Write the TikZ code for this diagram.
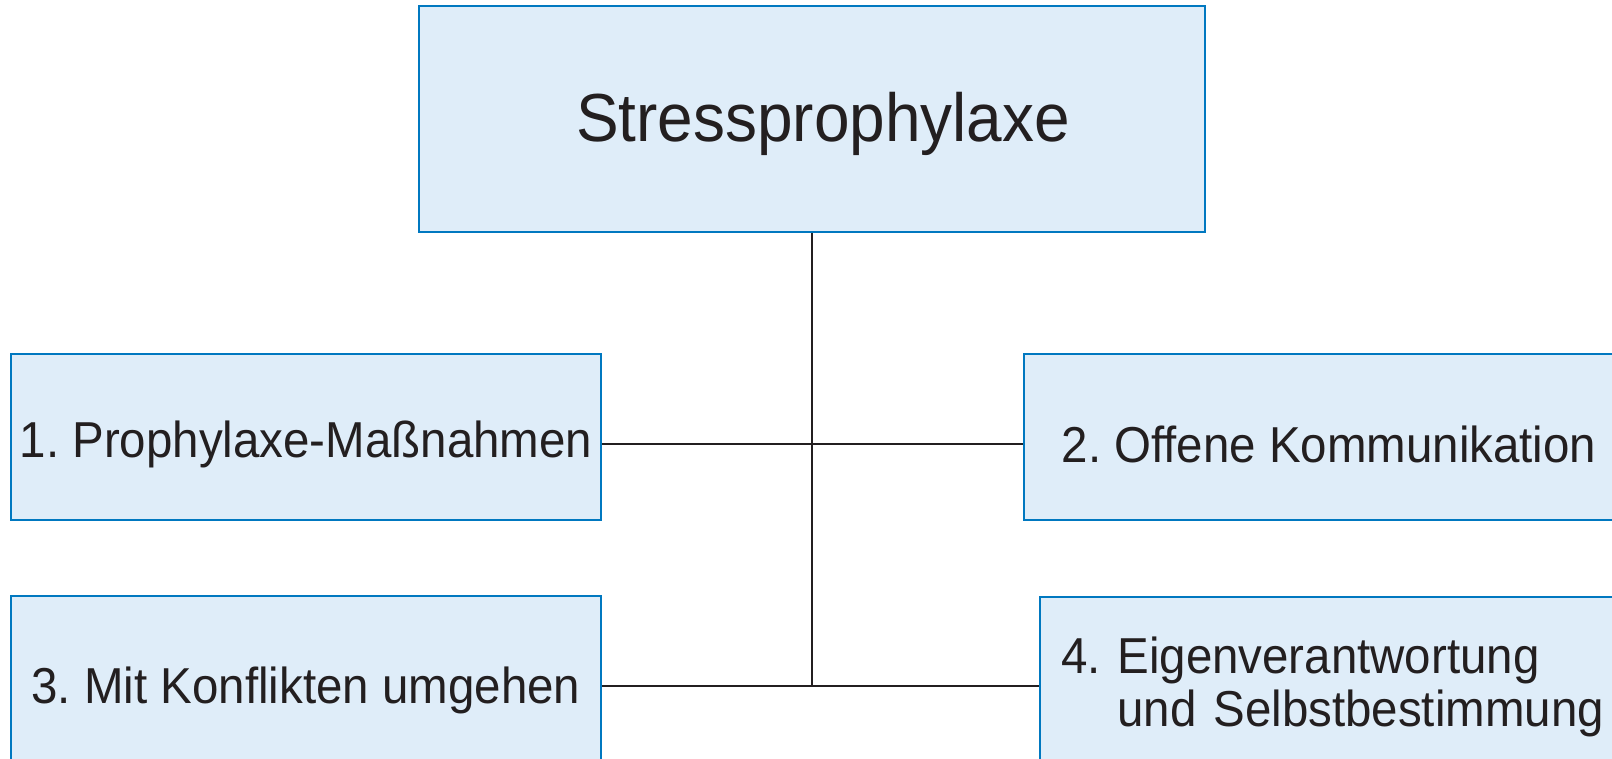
\documentclass[tikz,border=0pt]{standalone}
\usepackage{fontspec}
\setmainfont{Liberation Sans}[FakeStretch=0.94]
\usepackage{tikz}
\frenchspacing
\definecolor{boxblue}{RGB}{0,120,192}
\definecolor{boxfill}{RGB}{223,237,249}
\definecolor{inkgray}{RGB}{35,31,32}
\tikzset{
  stressbox/.style={rectangle, draw=boxblue, fill=boxfill, line width=2pt, inner sep=0pt,
    text=inkgray, font=\fontsize{50.5}{53}\selectfont},
  branch/.style={draw=inkgray, line width=2.2pt}
}

\begin{document}
\begin{tikzpicture}[x=1pt,y=-1pt]
			%%%%% START %%%%%
			\useasboundingbox (0,0) rectangle (1612,759);
			\clip (0,0) rectangle (1612,759);
			
			\node[stressbox, minimum width=786pt, minimum height=226pt, text height=60pt, font=\fontsize{68}{74}\selectfont] (top) at (812,119)
				{\hspace*{22pt}Stressprophylaxe};
			
			\node[stressbox, minimum width=590pt, minimum height=166pt, text height=51pt] (b1) at (306,437) {1. Prophylaxe-Maßnahmen};
			\node[stressbox, minimum width=610pt, minimum height=166pt, text height=51pt] (b2) at (1329,437) {2. Offene Kommunikation};
			
			\node[stressbox, minimum width=590pt, minimum height=180pt, text height=45pt] (b3) at (306,686) {3. Mit Konflikten umgehen};
			\node[stressbox, anchor=north west, minimum height=180pt, inner xsep=21pt, text width=560pt, align=left] (b4) at (1039,596)
				{4. Eigenverantwortung\\\hphantom{4. }und Selbstbestimmung};
			
			\coordinate (j1) at (813,444);
			\coordinate (j2) at (813,686);
			
			\draw[branch] (top.south) -- (top.south |- j2);
			\draw[branch] (b1.east |- j1) -- (b2.west |- j1);
			\draw[branch] (b3.east |- j2) -- (b4.west |- j2);
			
			%%%%% END %%%%%
\end{tikzpicture}
\end{document}
